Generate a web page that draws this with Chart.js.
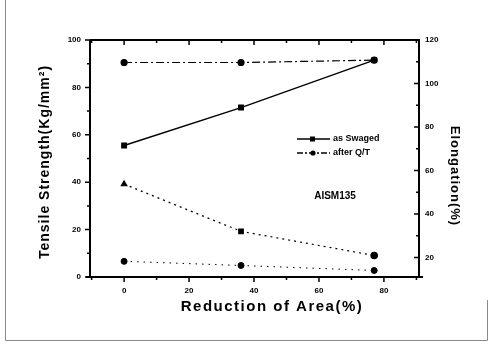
<!DOCTYPE html>
<html>
<head>
<meta charset="utf-8">
<script src="https://cdn.jsdelivr.net/npm/chart.js@4.4.1/dist/chart.umd.min.js"></script>
<style>
html,body{margin:0;padding:0;background:#fff;}
#wrap{position:relative;width:490px;height:350px;}
</style>
</head>
<body>
<div id="wrap"><canvas id="c" width="490" height="350"></canvas></div>
<script>
// ---- data ----
const reduction = [0, 36, 77];
const tensileSwaged = [55.5, 71.5, 91.5];
const tensileQT = [90.5, 90.5, 91.5];
const elongSwaged = [53.7, 32, 20.9];
const elongQT = [18.2, 16.3, 14];
const xTicks = [0, 20, 40, 60, 80];
const yTicks = [0, 20, 40, 60, 80, 100];
const y1Ticks = [20, 40, 60, 80, 100, 120];
const legendLabels = ['as Swaged', 'after Q/T'];
const annotationText = 'AISM135';
const xTitle = 'Reduction of Area(%)';
const yTitle = 'Tensile Strength(Kg/mm\u00B2)';
const y1Title = 'Elongation(%)';

const pts = (ys) => reduction.map((x, i) => ({x: x, y: ys[i]}));
const FONT = "'Liberation Sans', Arial, sans-serif";

const framePlugin = {
  id: 'frame',
  afterDraw(chart) {
    const ctx = chart.ctx;
    const a = chart.chartArea;
    const xs = chart.scales.x, ys = chart.scales.y, y1 = chart.scales.y1;
    ctx.save();
    // outer border
    ctx.strokeStyle = '#8a8a8a';
    ctx.lineWidth = 1;
    ctx.beginPath();
    ctx.moveTo(5.5, 0); ctx.lineTo(5.5, 340.5); ctx.lineTo(487.5, 340.5); ctx.lineTo(487.5, 300);
    ctx.stroke();
    // plot frame
    ctx.strokeStyle = '#000';
    ctx.lineWidth = 2;
    ctx.beginPath();
    ctx.moveTo(a.left, a.top); ctx.lineTo(a.right, a.top);
    ctx.lineTo(a.right, a.bottom);
    ctx.moveTo(a.left, a.top); ctx.lineTo(a.left, a.bottom);
    ctx.moveTo(a.left - 4, a.bottom); ctx.lineTo(a.right + 4, a.bottom);
    ctx.stroke();
    ctx.lineWidth = 1.5;
    ctx.beginPath();
    for (let v = -10; v <= 90; v += 10) {
      const p = xs.getPixelForValue(v);
      if (p < a.left + 1 || p > a.right - 1) continue;
      const L = (v % 20 === 0) ? 5 : 3;
      ctx.moveTo(p, a.bottom); ctx.lineTo(p, a.bottom + L);
      ctx.moveTo(p, a.top); ctx.lineTo(p, a.top + L);
    }
    for (let v = 0; v <= 100; v += 10) {
      const p = ys.getPixelForValue(v);
      const L = (v % 20 === 0) ? 5 : 3;
      ctx.moveTo(a.left, p); ctx.lineTo(a.left - L, p);
    }
    for (let v = 20; v <= 120; v += 10) {
      const p = y1.getPixelForValue(v);
      const L = (v % 20 === 0) ? 5 : 3;
      ctx.moveTo(a.right, p); ctx.lineTo(a.right - L, p);
    }
    ctx.stroke();

    // axis titles
    ctx.fillStyle = '#000';
    ctx.textAlign = 'center';
    ctx.textBaseline = 'middle';
    ctx.font = 'bold 15px ' + FONT;
    ctx.letterSpacing = '1.5px';
    ctx.fillText(xTitle, 272, 307);
    ctx.save();
    ctx.font = 'bold 14px ' + FONT;
    ctx.letterSpacing = '1px';
    ctx.translate(45, 162);
    ctx.rotate(-Math.PI / 2);
    ctx.fillText(yTitle, 0, 0);
    ctx.restore();
    ctx.save();
    ctx.font = 'bold 13px ' + FONT;
    ctx.letterSpacing = '1px';
    ctx.translate(455, 176);
    ctx.rotate(Math.PI / 2);
    ctx.fillText(y1Title, 0, 0);
    ctx.restore();
    ctx.letterSpacing = '0px';

    // annotation
    ctx.font = 'bold 10px ' + FONT;
    ctx.textAlign = 'center';
    ctx.fillText(annotationText, 335, 196);

    // legend
    const rows = [
      {y: 139, dash: [], style: 'rect', label: legendLabels[0]},
      {y: 153, dash: [6, 2, 2, 2], style: 'circle', label: legendLabels[1]}
    ];
    rows.forEach(r => {
      ctx.lineWidth = 1.3;
      ctx.setLineDash(r.dash);
      ctx.beginPath();
      ctx.moveTo(297, r.y); ctx.lineTo(330, r.y);
      ctx.stroke();
      ctx.setLineDash([]);
      ctx.beginPath();
      if (r.style === 'rect') ctx.rect(310, r.y - 2.5, 5, 5);
      else ctx.arc(313, r.y, 2.6, 0, Math.PI * 2);
      ctx.fill();
      ctx.font = 'bold 9px ' + FONT;
      ctx.textAlign = 'left';
      ctx.fillText(r.label, 333, r.y);
    });
    ctx.restore();
  }
};

const tickFont = {family: FONT, size: 8, weight: 'bold'};

new Chart(document.getElementById('c'), {
  type: 'line',
  data: {
    datasets: [
      {label: 'TS as Swaged', data: pts(tensileSwaged), yAxisID: 'y', borderColor: '#000', backgroundColor: '#000',
       borderWidth: 1.4, pointStyle: 'rect', pointRadius: 3.2, tension: 0},
      {label: 'TS after Q/T', data: pts(tensileQT), yAxisID: 'y', borderColor: '#000', backgroundColor: '#000',
       borderWidth: 1.2, borderDash: [8, 3, 2, 3], pointStyle: 'circle', pointRadius: 3, tension: 0},
      {label: 'El as Swaged', data: pts(elongSwaged), yAxisID: 'y1', borderColor: '#000', backgroundColor: '#000',
       borderWidth: 1.2, borderDash: [2, 4], pointStyle: ['triangle', 'rect', 'circle'], pointRadius: 3.2, tension: 0},
      {label: 'El after Q/T', data: pts(elongQT), yAxisID: 'y1', borderColor: '#000', backgroundColor: '#000',
       borderWidth: 1, borderDash: [1.5, 5], pointStyle: 'circle', pointRadius: 3, tension: 0}
    ]
  },
  options: {
    responsive: false,
    animation: false,
    layout: {padding: {top: 40, left: 0, right: 0, bottom: 0}},
    plugins: {legend: {display: false}, tooltip: {enabled: false}},
    scales: {
      x: {
        type: 'linear', min: -10.5, max: 90.8,
        grid: {display: false, drawTicks: false}, border: {display: false},
        afterBuildTicks: s => { s.ticks = xTicks.map(v => ({value: v})); },
        afterFit: s => { s.height = 73; },
        ticks: {color: '#000', padding: 9, maxRotation: 0, font: tickFont}
      },
      y: {
        type: 'linear', position: 'left', min: 0, max: 100,
        grid: {display: false, drawTicks: false}, border: {display: false},
        afterBuildTicks: s => { s.ticks = yTicks.map(v => ({value: v})); },
        afterFit: s => { s.width = 90; },
        ticks: {color: '#000', padding: 9, font: tickFont}
      },
      y1: {
        type: 'linear', position: 'right', min: 11, max: 120,
        grid: {display: false, drawTicks: false}, border: {display: false},
        afterBuildTicks: s => { s.ticks = y1Ticks.map(v => ({value: v})); },
        afterFit: s => { s.width = 71; },
        ticks: {color: '#000', padding: 6, font: tickFont}
      }
    }
  },
  plugins: [framePlugin]
});
</script>
</body>
</html>
